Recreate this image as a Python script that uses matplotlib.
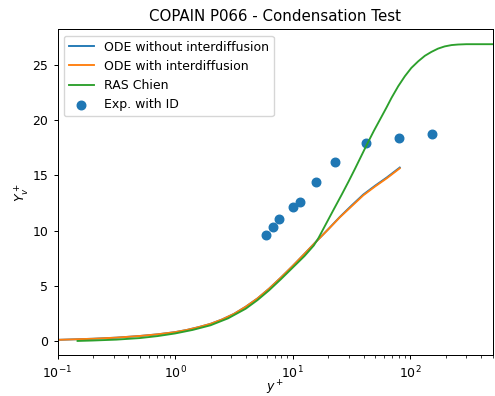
import matplotlib
matplotlib.use("Agg")
import matplotlib.pyplot as plt

# ODE without interdiffusion (y+, Y_v+)
ode_no_x = [0.1, 0.2, 0.316, 0.5, 0.708, 1.0, 1.26, 1.58, 2.0, 2.51, 3.16, 3.98, 5.01, 6.31, 7.94, 10.0, 12.6, 15.8, 20.0, 25.1, 31.6, 39.8, 50.1, 63.1, 81.3]
ode_no_y = [0.10, 0.20, 0.30, 0.45, 0.60, 0.80, 1.00, 1.25, 1.55, 1.95, 2.45, 3.10, 3.85, 4.75, 5.75, 6.80, 7.90, 9.00, 10.12, 11.23, 12.27, 13.27, 14.07, 14.82, 15.72]

# ODE with interdiffusion
ode_id_x = [0.1, 0.2, 0.316, 0.5, 0.708, 1.0, 1.26, 1.58, 2.0, 2.51, 3.16, 3.98, 5.01, 6.31, 7.94, 10.0, 12.6, 15.8, 20.0, 25.1, 31.6, 39.8, 50.1, 63.1, 81.3]
ode_id_y = [0.10, 0.20, 0.30, 0.45, 0.60, 0.80, 1.00, 1.25, 1.55, 1.95, 2.45, 3.10, 3.85, 4.75, 5.75, 6.80, 7.90, 9.00, 10.10, 11.20, 12.20, 13.20, 14.00, 14.75, 15.65]

# RAS Chien
ras_x = [0.148, 0.2, 0.316, 0.5, 0.708, 1.0, 1.41, 2.0, 2.82, 3.98, 5.01, 6.31, 7.94, 10.0, 12.6, 15.1, 16.6, 18.3, 22.0, 26.2, 30.0, 34.0, 38.0, 42.7, 49.0, 56.4, 63.0, 69.3, 79.0, 89.9, 102, 116.7, 133, 151, 172, 196, 224, 254, 300, 400, 500]
ras_y = [0.0, 0.04, 0.12, 0.26, 0.44, 0.68, 1.0, 1.42, 2.05, 2.92, 3.7, 4.6, 5.6, 6.65, 7.7, 8.65, 9.35, 10.2, 11.8, 13.3, 14.5, 15.65, 16.7, 17.8, 19.05, 20.25, 21.2, 22.05, 23.1, 24.0, 24.75, 25.35, 25.85, 26.2, 26.5, 26.7, 26.82, 26.87, 26.9, 26.9, 26.9]

# Experimental data with interdiffusion
exp_x = [5.89, 6.75, 7.67, 9.96, 11.55, 15.7, 22.8, 42.1, 79.4, 154]
exp_y = [9.60, 10.33, 11.08, 12.11, 12.59, 14.40, 16.19, 17.93, 18.41, 18.72]

s = 0.9
plt.rcParams.update({
    "font.size": 10 * s,
    "axes.titlesize": 12 * s,
    "axes.labelsize": 10 * s,
    "xtick.labelsize": 10 * s,
    "ytick.labelsize": 10 * s,
    "legend.fontsize": 10 * s,
    "lines.linewidth": 1.5 * s,
    "axes.linewidth": 0.8 * s,
    "xtick.major.size": 3.5 * s,
    "ytick.major.size": 3.5 * s,
    "xtick.minor.size": 2 * s,
    "xtick.major.width": 0.8 * s,
    "ytick.major.width": 0.8 * s,
    "xtick.minor.width": 0.6 * s,
})

fig = plt.figure(figsize=(4.95, 3.96), dpi=100)
ax = fig.add_axes([0.1162, 0.1028, 0.8788, 0.8232])

ax.plot(ode_no_x, ode_no_y, color="#1f77b4", label="ODE without interdiffusion")
ax.plot(ode_id_x, ode_id_y, color="#ff7f0e", label="ODE with interdiffusion")
ax.plot(ras_x, ras_y, color="#2ca02c", label="RAS Chien")
ax.scatter(exp_x, exp_y, s=38, color="#1f77b4", label="Exp. with ID")

ax.set_xscale("log")
ax.set_xlim(0.1, 500)
ax.set_ylim(-1.3, 28.25)
ax.set_title("COPAIN P066 - Condensation Test")
ax.set_xlabel("$y^+$", labelpad=-2)
ax.set_ylabel("$Y_v^+$", labelpad=1)
ax.legend(loc="upper left")

fig.savefig("out.png", dpi=100)
